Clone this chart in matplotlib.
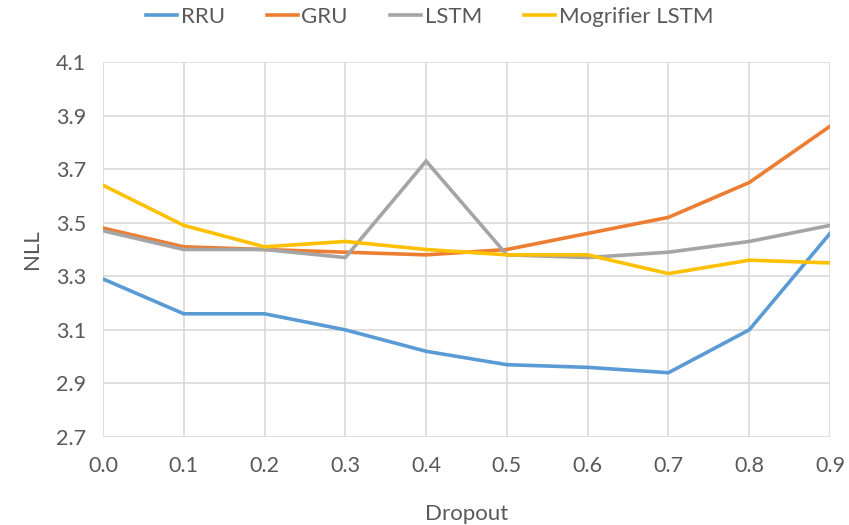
import numpy as np
import matplotlib.pyplot as plt

dropout = [0.0, 0.1, 0.2, 0.3, 0.4, 0.5, 0.6, 0.7, 0.8, 0.9]
rru = [3.29, 3.16, 3.16, 3.10, 3.02, 2.97, 2.96, 2.94, 3.10, 3.46]
gru = [3.48, 3.41, 3.40, 3.39, 3.38, 3.40, 3.46, 3.52, 3.65, 3.86]
lstm = [3.47, 3.40, 3.40, 3.37, 3.73, 3.38, 3.37, 3.39, 3.43, 3.49]
mogrifier = [3.64, 3.49, 3.41, 3.43, 3.40, 3.38, 3.38, 3.31, 3.36, 3.35]

series = [("RRU", rru, "#5B9BD5"), ("GRU", gru, "#ED7D31"),
          ("LSTM", lstm, "#A5A5A5"), ("Mogrifier LSTM", mogrifier, "#FFC000")]

plt.rcParams['font.family'] = ['Lato', 'DejaVu Sans']
txt = "#595959"

fig = plt.figure(figsize=(8.49, 5.25), dpi=100)
ax = fig.add_axes([103/849, 1-437/525, (830-103)/849, (437-62)/525])

for name, vals, col in series:
    ax.plot(dropout, vals, color=col, lw=2.6, label=name, solid_joinstyle='miter')

ax.set_xlim(0, 0.9)
ax.set_ylim(2.7, 4.1)
ax.set_xticks(dropout)
ax.set_xticklabels([f"{v:.1f}" for v in dropout])
ax.set_yticks(np.arange(2.7, 4.11, 0.2))
ax.set_yticklabels([f"{v:.1f}" for v in np.arange(2.7, 4.11, 0.2)])
ax.grid(True, color="#D9D9D9", lw=1.2)
ax.set_axisbelow(True)
for s in ax.spines.values():
    s.set_visible(False)
ax.tick_params(length=0, labelsize=15.5, colors=txt)
ax.tick_params(axis='x', pad=14)
ax.tick_params(axis='y', pad=12)
ax.set_xlabel("Dropout", fontsize=16, color=txt, labelpad=20)
ax.set_ylabel("NLL", fontsize=16, color=txt, labelpad=10)

fig.legend(loc='center', bbox_to_anchor=(0.506, 1 - 17/525), ncol=4, frameon=False,
           fontsize=16, handlelength=1.4, handletextpad=0.15, columnspacing=1.9,
           labelcolor=txt)

fig.savefig("out.png", dpi=100)
